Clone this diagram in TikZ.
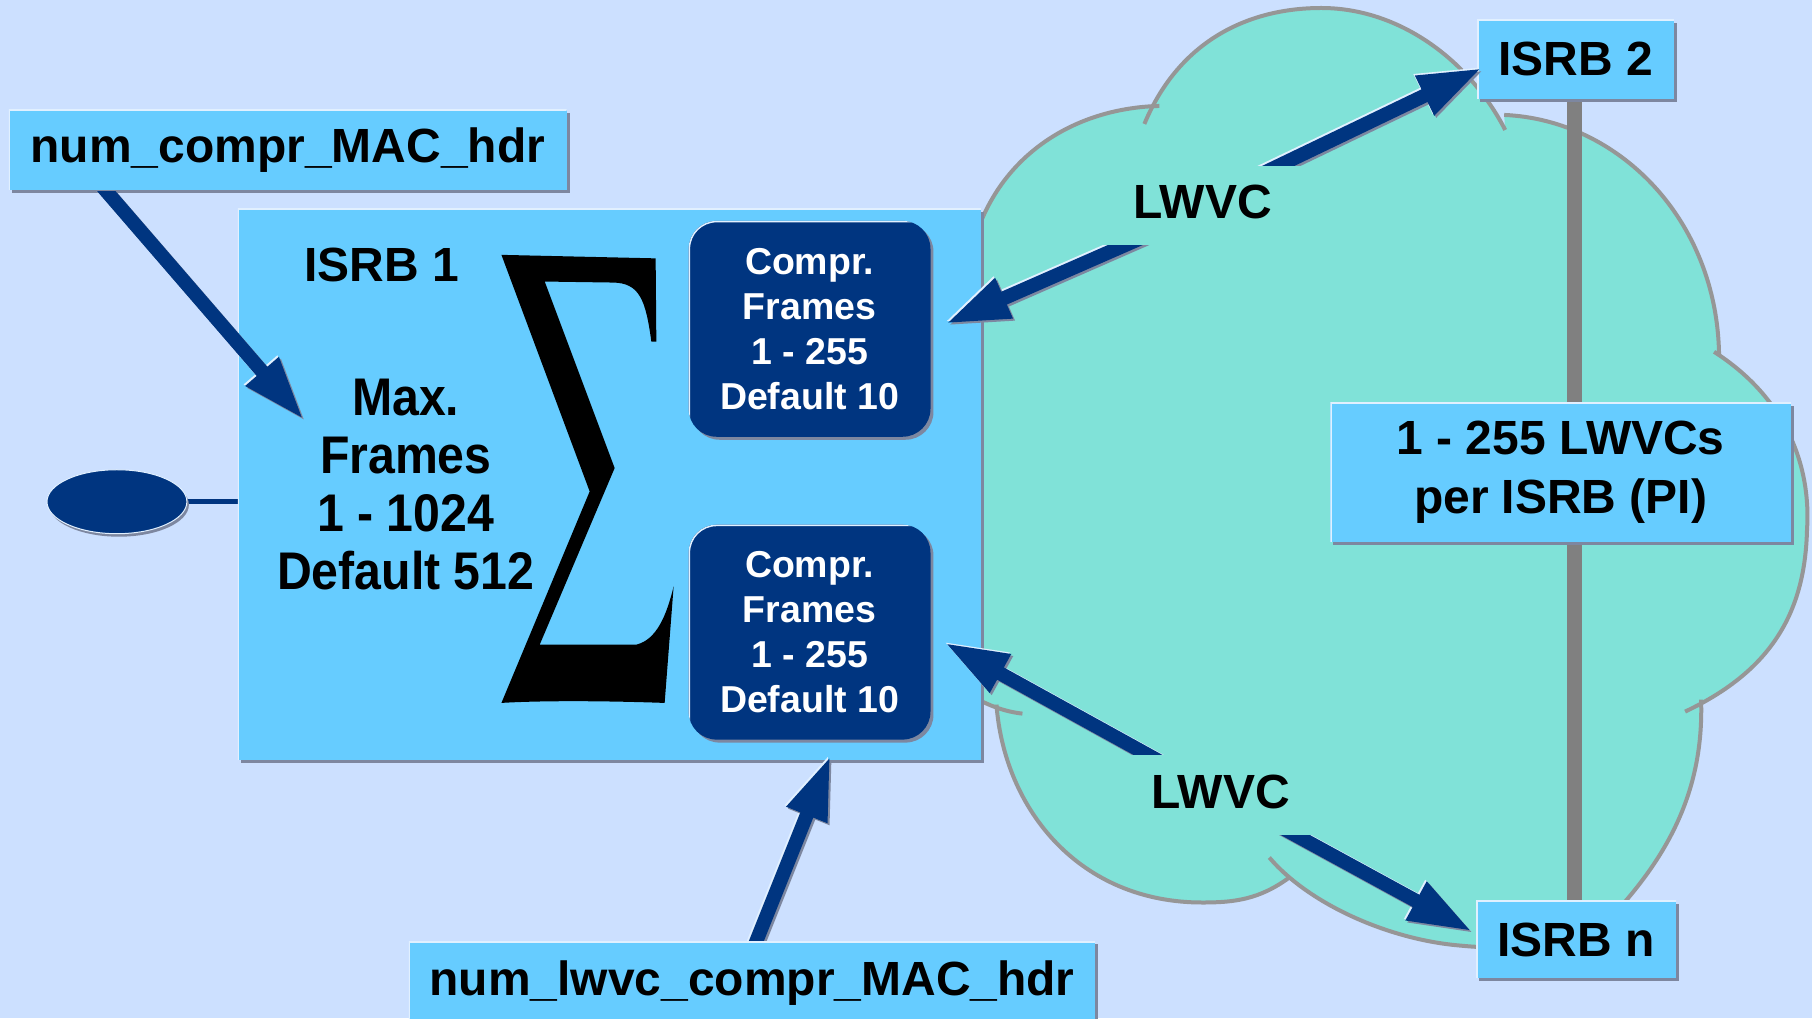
\documentclass[tikz,border=0pt]{standalone}
\usepackage{fontspec}
\setmainfont{Liberation Sans}
\newfontfamily\narrowsans[FakeStretch=0.91]{Liberation Sans}
\usetikzlibrary{arrows.meta,shapes.geometric,shadows,calc}

\definecolor{bg}{RGB}{204,224,255}
\definecolor{boxfill}{RGB}{102,204,255}
\definecolor{navy}{RGB}{0,53,128}
\definecolor{cloudfill}{RGB}{128,226,216}
\definecolor{cloudline}{RGB}{150,150,150}
\definecolor{linkgray}{RGB}{128,128,128}
\definecolor{shadowc}{RGB}{125,135,160}
\definecolor{hilite}{RGB}{225,240,255}

\newcommand\lblfont{\bfseries\fontsize{48}{59}\selectfont}
\newcommand\maxfont{\narrowsans\bfseries\fontsize{53}{58}\selectfont}
\newcommand\comprfont{\bfseries\fontsize{37.5}{45}\selectfont}

\pgfdeclarelayer{cloudlayer}
\pgfdeclarelayer{linklayer}
\pgfsetlayers{cloudlayer,linklayer,main}

\tikzset{
  raised/.style={drop shadow={shadow xshift=3pt,shadow yshift=-3pt,fill=shadowc,opacity=1}},
  litedge/.style={path picture={\draw[hilite,line width=3pt,rounded corners=#1]
      (path picture bounding box.south west) |- (path picture bounding box.north east);}},
  litedge/.default=0pt,
  labelbox/.style={rectangle, fill=boxfill, raised, litedge, inner sep=0pt,
      font=\lblfont, align=center},
  comprbox/.style={rectangle, rounded corners=28pt, fill=navy, raised, litedge=28pt,
      inner sep=0pt, minimum width=242pt, minimum height=216pt, text=white,
      font=\comprfont, align=center},
  cloudedge/.style={draw=cloudline, line width=4pt},
  trunk/.style={draw=linkgray, line width=15pt},
  fatarrow/.style={draw=navy, line width=14pt, -{Triangle[length=64pt,width=40pt]}},
  plainlbl/.style={font=\lblfont, inner sep=0pt},
}

% thick bevelled arrow, tail cut level with its start point:
% #1 tail, #2 tip, #3 canvas height bounding the clip on the tip side
\newcommand\fatlink[3]{%
  \begin{scope}
    \clip let \p1=(#1) in (-100pt,\y1) rectangle (2000pt,#3);
    \draw[fatarrow,draw=hilite,transform canvas={shift={(-1.5,-1.5)}}] ($(#1)!-25pt!(#2)$) -- (#2);
    \draw[fatarrow,draw=shadowc,transform canvas={shift={(2,2)}}] ($(#1)!-25pt!(#2)$) -- (#2);
    \draw[fatarrow] ($(#1)!-25pt!(#2)$) -- (#2);
  \end{scope}}

\begin{document}
\begin{tikzpicture}[x=1pt,y=-1pt]

% ---------- background and cloud ----------
\begin{pgfonlayer}{cloudlayer}
\fill[bg] (0,0) rectangle (1813,1019);
\fill[cloudfill] (955,700) -- (958,300) .. controls (962,270) and (970,250) .. (979,228)
  .. controls (1008,150) and (1080,108) .. (1160,106)
  -- (1145,124) .. controls (1180,40) and (1250,8) .. (1322,8)
  .. controls (1400,8) and (1470,60) .. (1506,130)
  -- (1505,115) .. controls (1620,120) and (1718,220) .. (1720,355)
  -- (1715,352) .. controls (1790,400) and (1812,470) .. (1808,530)
  .. controls (1806,610) and (1775,670) .. (1686,712)
  -- (1702,700) .. controls (1705,790) and (1670,860) .. (1600,930)
  .. controls (1560,950) and (1500,950) .. (1460,946)
  .. controls (1390,940) and (1310,905) .. (1270,858)
  -- (1290,878) .. controls (1260,900) and (1235,903) .. (1203,903)
  .. controls (1080,903) and (1005,810) .. (997,705)
  -- (1023,714) .. controls (1005,712) and (990,706) .. (975,698) -- cycle;
\draw[cloudedge] (979,228) .. controls (1008,150) and (1080,108) .. (1160,106);
\draw[cloudedge] (1145,124) .. controls (1180,40) and (1250,8) .. (1322,8)
  .. controls (1400,8) and (1470,60) .. (1506,130);
\draw[cloudedge] (1505,115) .. controls (1620,120) and (1718,220) .. (1720,355);
\draw[cloudedge] (1715,352) .. controls (1790,400) and (1812,470) .. (1808,530)
  .. controls (1806,610) and (1775,670) .. (1686,712);
\draw[cloudedge] (1702,700) .. controls (1705,790) and (1670,860) .. (1600,930)
  .. controls (1560,950) and (1500,950) .. (1460,946)
  .. controls (1390,940) and (1310,905) .. (1270,858);
\draw[cloudedge] (1290,878) .. controls (1260,900) and (1235,903) .. (1203,903)
  .. controls (1080,903) and (1005,810) .. (997,705);
\draw[cloudedge] (1023,714) .. controls (1005,712) and (990,706) .. (975,698);
\end{pgfonlayer}
\useasboundingbox (0,0) rectangle (1813,1019);

% ---------- boxes ----------
\node[labelbox, minimum width=558pt, minimum height=80pt] (hdr1) at (288,150) {num\_compr\_MAC\_hdr};
\node[labelbox, minimum width=744pt, minimum height=551pt] (isrb1) at (610,484.5) {};
\node[labelbox, minimum width=687pt, minimum height=84pt] (hdr2) at (752.5,984) {num\_lwvc\_compr\_MAC\_hdr};
\node[labelbox, minimum width=197pt, minimum height=79pt] (isrb2) at (1576.5,59.5) {ISRB 2};
\node[labelbox, minimum width=461pt, minimum height=139pt] (lwvcs) at (1561.5,472.5) {1 - 255 LWVCs\\per ISRB (PI)};
\node[labelbox, minimum width=200pt, minimum height=78pt] (isrbn) at (1577,940) {ISRB n};

\node[plainlbl] (isrb1lbl) at (382,265) {ISRB 1};
\node[font=\maxfont, inner sep=0pt, align=center] (maxfr) at (406,485) {Max.\\Frames\\1 - 1024\\Default 512};

% summation sign
\fill[black] (501.7,255) -- (656,258.5) -- (656.7,341.7) -- (651.7,341.7)
  .. controls (646,300) and (640,283) .. (613,282.7) -- (545,281.7) -- (615,468.3)
  -- (540,645) -- (636.7,645) .. controls (656.7,640) and (666.7,616.7) .. (674,586.7)
  -- (665,703.3) .. controls (600,701) and (540,701) .. (501.7,703.3)
  -- (590,491.7) -- cycle;

\node[comprbox] (cu) at (810,329) {Compr.\\Frames\\1 - 255\\Default 10};
\node[comprbox, minimum height=215pt] (cl) at (810,632.5) {Compr.\\Frames\\1 - 255\\Default 10};

\node[ellipse, fill=navy, draw=hilite, line width=1pt, minimum width=140pt, minimum height=64pt,
      drop shadow={shadow xshift=2pt,shadow yshift=-3pt,fill=shadowc,opacity=1}] (dot) at (117,502) {};

% ---------- plain connectors ----------
\begin{pgfonlayer}{linklayer}
\draw[trunk] ([xshift=-1.5pt]isrb2.south) -- ([xshift=-2pt]isrbn.north);
\draw[trunk] ([xshift=6pt]cu.south) -- ([xshift=6pt]cl.north);
\draw[navy, line width=5pt] (dot.east) -- (dot.east -| isrb1.west);
\end{pgfonlayer}

% ---------- LWVC labels ----------
\node[plainlbl] (lw1) at (1203,202) {LWVC};
\node[plainlbl] (lw2) at (1221,792) {LWVC};

% ---------- arrows ----------
\coordinate (a1s) at (107,192);  \coordinate (a1e) at (304,420);
\coordinate (a2s) at (757,941);  \coordinate (a2e) at (831,756);
\coordinate (a3s) at (1279,166); \coordinate (a3e) at (1483,68);
\coordinate (a4s) at (1124,246); \coordinate (a4e) at (946,324);
\coordinate (a5s) at (1148,755); \coordinate (a5e) at (945,643);
\coordinate (a6s) at (1297,836); \coordinate (a6e) at (1473,932);
\fatlink{a1s}{a1e}{-1200pt}
\fatlink{a2s}{a2e}{100pt}
\fatlink{a3s}{a3e}{100pt}
\fatlink{a4s}{a4e}{-1200pt}
\fatlink{a5s}{a5e}{100pt}
\fatlink{a6s}{a6e}{-1200pt}

\end{tikzpicture}
\end{document}
